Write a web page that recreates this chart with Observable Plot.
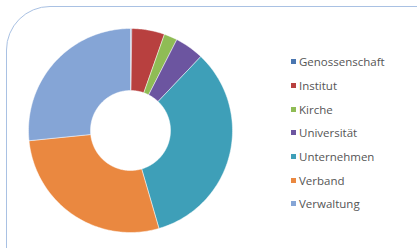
<!DOCTYPE html>
<html><head><meta charset="utf-8">
<script src="https://cdn.jsdelivr.net/npm/d3@7"></script>
<script src="https://cdn.jsdelivr.net/npm/@observablehq/plot@0.6"></script>
<style>
html,body{margin:0;padding:0;background:#fff;}
#wrap{position:relative;width:417px;height:248px;overflow:hidden;background:#fff;}
#frame{position:absolute;left:6px;top:6px;width:470px;height:320px;border:1.5px solid #a9c1e3;border-radius:44px;box-sizing:border-box;}
#chart{position:absolute;left:0;top:0;}
#legend{position:absolute;left:291px;top:50px;font-family:"Open Sans";font-size:11.5px;color:#555;}
.item{display:flex;align-items:center;height:23.7px;white-space:nowrap;}
.sw{width:5px;height:5px;margin-right:3px;flex:none;}
</style>
</head><body>
<div id="wrap"><div id="frame"></div><div id="chart"></div><div id="legend"></div></div>
<script>
const categories = ["Genossenschaft","Institut","Kirche","Universität","Unternehmen","Verband","Verwaltung"];
const shares = [0.2, 5.2, 2.1, 4.6, 33.4, 27.9, 26.6];
const colors = ["#4a76b0","#b8403f","#8fbc55","#6c55a0","#3e9fb8","#ea8840","#85a5d6"];

const innerRatio = 40 / 102;
const pie = d3.pie().sort(null).value(d => d)(shares);
const pts = [];
pie.forEach((p, i) => {
  const a0 = p.startAngle, a1 = p.endAngle;
  const n = Math.max(2, Math.ceil((a1 - a0) / 0.02));
  for (let k = 0; k <= n; k++) {
    const a = a0 + (a1 - a0) * k / n;
    pts.push({cat: categories[i], x: Math.sin(a), y: Math.cos(a)});
  }
  for (let k = n; k >= 0; k--) {
    const a = a0 + (a1 - a0) * k / n;
    pts.push({cat: categories[i], x: innerRatio * Math.sin(a), y: innerRatio * Math.cos(a)});
  }
  pts.push({cat: categories[i], x: Math.sin(a0), y: Math.cos(a0)});
});

const chart = Plot.plot({
  width: 417, height: 248,
  margin: 0,
  x: {domain: [-1, 1], range: [28, 232], axis: null},
  y: {domain: [-1, 1], range: [232, 28], axis: null},
  color: {domain: categories, range: colors},
  marks: [
    Plot.line(pts, {x: "x", y: "y", z: "cat", fill: "cat", stroke: "#fff", strokeWidth: 0.6, strokeOpacity: 0.8, curve: "linear"})
  ]
});
document.getElementById("chart").appendChild(chart);

const color = chart.scale("color");
const legend = document.getElementById("legend");
categories.forEach(c => {
  const it = document.createElement("div");
  it.className = "item";
  const sw = document.createElement("span");
  sw.className = "sw";
  sw.style.background = color.apply(c);
  const tx = document.createElement("span");
  tx.textContent = c;
  it.appendChild(sw); it.appendChild(tx);
  legend.appendChild(it);
});
</script>
</body></html>
